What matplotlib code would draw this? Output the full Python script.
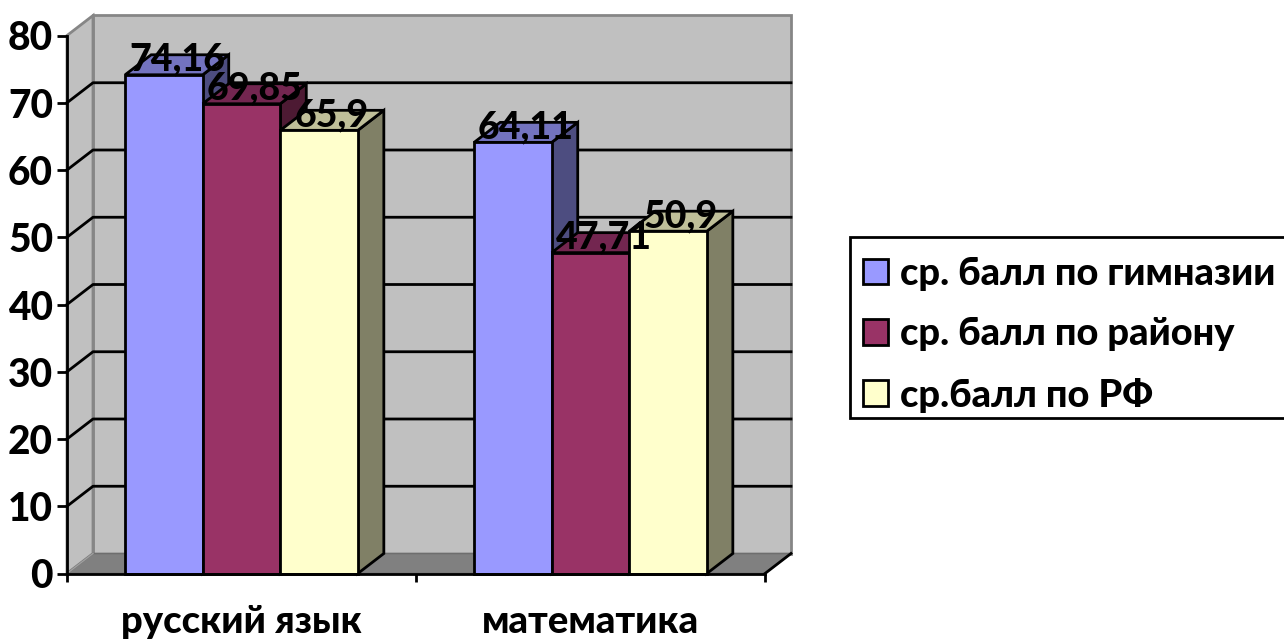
import matplotlib
matplotlib.use("Agg")
import matplotlib.pyplot as plt
from matplotlib.patches import Patch, Rectangle

categories = ["русский язык", "математика"]
series_names = ["ср. балл по гимназии", "ср. балл по району", "ср.балл по РФ"]
gymnasium = [74.16, 64.11]
district = [69.85, 47.71]
russia = [65.9, 50.9]
value_labels = [["74,16", "64,11"], ["69,85", "47,71"], ["65,9", "50,9"]]
yticks = [0, 10, 20, 30, 40, 50, 60, 70, 80]

front = ["#9999FF", "#993366", "#FFFFCC"]
top = ["#7373BF", "#732650", "#BFBF99"]
side = ["#4D4D80", "#4D1A33", "#808066"]
series = [gymnasium, district, russia]

W, H = 1284, 640
L, R, B, T = 67, 765, 573.5, 35.5
FONT = ["Lato", "Noto Sans", "DejaVu Sans"]
WEIGHT = 900
plt.rcParams["font.family"] = FONT
plt.rcParams["font.weight"] = WEIGHT

fig = plt.figure(figsize=(W / 100, H / 100), dpi=100)
ax = fig.add_axes([L / W, (H - B) / H, (R - L) / W, (B - T) / H])
ax.set_xlim(0, 2)
ax.set_ylim(0, 80)
ax.patch.set_visible(False)

ppx = (R - L) / 2
ppy = (B - T) / 80
dx = 26 / ppx
dy = 20 / ppy
LW = 2.0

# walls
ax.fill([dx, 2 + dx, 2 + dx, dx], [dy, dy, 80 + dy, 80 + dy], fc="#C0C0C0", ec="#868686", lw=2, clip_on=False, zorder=1)
ax.fill([0, dx, dx, 0], [0, dy, 80 + dy, 80], fc="#C0C0C0", ec="#868686", lw=2, clip_on=False, zorder=1)
ax.fill([0, 2, 2 + dx, dx], [0, 0, dy, dy], fc="#808080", ec="#6E6E6E", lw=1.2, clip_on=False, zorder=1)
ax.plot([2, 2 + dx], [0, dy], color="black", lw=LW, clip_on=False, zorder=2)
ax.plot([0, dx], [0, dy], color="#A0A0A0", lw=1, clip_on=False, zorder=2)

# gridlines
for v in yticks[1:-1]:
    ax.plot([0, dx, 2 + dx], [v, v + dy, v + dy], color="black", lw=LW, clip_on=False, zorder=2)

# bars
bw = 1 / 4.5
z = 3
for c in range(2):
    for s in range(3):
        x0 = c + 0.75 * bw + s * bw
        x1 = x0 + bw
        v = series[s][c]
        ax.fill([x1, x1 + dx, x1 + dx, x1], [0, dy, v + dy, v], fc=side[s], ec="black", lw=LW, joinstyle="miter", clip_on=False, zorder=z)
        ax.fill([x0, x1, x1 + dx, x0 + dx], [v, v, v + dy, v + dy], fc=top[s], ec="black", lw=LW, joinstyle="miter", clip_on=False, zorder=z)
        ax.bar(x0, v, bw, align="edge", color=front[s], edgecolor="black", lw=LW, clip_on=False, zorder=z + 0.5)
        z += 1

# value labels
for c in range(2):
    for s in range(3):
        x = c + 0.75 * bw + s * bw + bw / 2
        ax.annotate(value_labels[s][c], (x, series[s][c]), xytext=(13 * 0.72, 15 * 0.72),
                    textcoords="offset points", ha="center", va="center", fontsize=27,
                    fontweight=WEIGHT, color="black", zorder=40)

# axes
for k in ("top", "right"):
    ax.spines[k].set_visible(False)
for k in ("left", "bottom"):
    ax.spines[k].set_linewidth(LW)
    ax.spines[k].set_zorder(30)
ax.set_yticks(yticks)
ax.set_yticklabels([str(v) for v in yticks], fontsize=28, fontweight=WEIGHT)
ax.tick_params(axis="y", length=7, width=LW, pad=3)
ax.set_xticks([0, 1, 2])
ax.set_xticklabels([])
ax.set_xticks([0.5, 1.5], minor=True)
ax.set_xticklabels(categories, minor=True, fontsize=27.5, fontweight=WEIGHT)
ax.tick_params(axis="x", which="major", length=6, width=LW)
ax.tick_params(axis="x", which="minor", length=0, pad=23)

# legend frame runs past the right edge of the picture, as in the reference
fig.add_artist(Rectangle((850 / W, 1 - 418 / H), 460 / W, 181 / H, transform=fig.transFigure,
                         fc="white", ec="black", lw=2, zorder=5))
handles = [Patch(fc=front[i], ec="black", lw=2) for i in range(3)]
leg = fig.legend(handles, series_names, loc="upper left", bbox_to_anchor=(863 / W, 1 - 257 / H),
                 bbox_transform=fig.transFigure, borderaxespad=0,
                 prop={"weight": WEIGHT, "size": 27.4}, frameon=False,
                 handlelength=0.66, handleheight=0.66,
                 handletextpad=0.3, labelspacing=0.69, borderpad=0)
leg.set_zorder(6)

fig.savefig("out.png", dpi=100)
